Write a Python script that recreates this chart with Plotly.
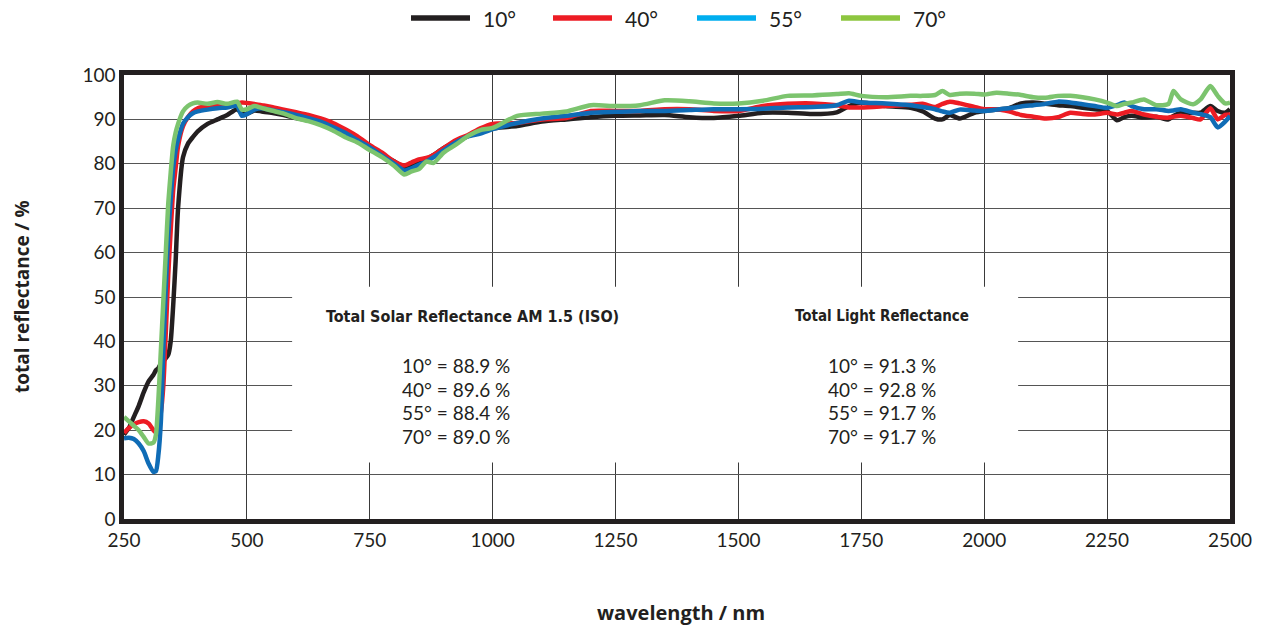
import plotly.graph_objects as go

# ---------------- data ----------------
wavelength = [250, 260, 270, 280, 290, 300, 310, 315, 320, 325,
              330, 335, 340, 345, 350, 355, 360, 370, 380, 390,
              400, 420, 440, 460, 480, 490, 500, 515, 530, 550,
              575, 600, 625, 650, 675, 700, 725, 750, 775, 800,
              820, 835, 850, 865, 880, 900, 925, 950, 975, 1000,
              1050, 1100, 1150, 1200, 1250, 1300, 1350, 1400, 1450, 1500,
              1550, 1600, 1650, 1700, 1725, 1750, 1800,
              1850, 1875, 1900, 1915, 1930, 1950, 1980, 2000, 2025, 2050,
              2075, 2100, 2125,
              2150, 2175, 2200, 2225, 2250, 2270, 2285, 2300, 2325, 2350,
              2375, 2385, 2400, 2425, 2440, 2460, 2475, 2490, 2500]

refl_10 = [19, 20.5, 23, 25.5, 28.5, 31, 32.5, 33.5, 34, 35,
           35.5, 36.2, 37, 40, 48, 58, 70, 81.5, 84.5, 86,
           87.3, 89, 90, 91, 92.3, 91.3, 91.2, 92, 91.8, 91.5,
           91, 90.3, 89.8, 89, 87.8, 86.5, 85, 83.5, 82, 80.5,
           79.2, 79.8, 80.5, 81, 82, 83.5, 85, 86.3, 87.5, 88,
           88.5, 89.5, 90, 90.5, 90.8, 90.9, 91, 90.5, 90.3, 90.8,
           91.5, 91.5, 91.2, 91.6, 93, 93.8, 93,
           92.6, 91.8, 90.2, 90, 91, 90.2, 91.5, 91.9, 92.2, 92.5,
           93.6, 93.8, 93.5,
           93.2, 93, 92.6, 92.3, 91.9, 89.8, 90.5, 90.8, 90.4, 90.6,
           90, 90.8, 91.5, 91.5, 91.5, 93, 91.9, 91.5, 92.3]

refl_40 = [19.4, 20.5, 21.3, 21.8, 22, 21.5, 20, 19.5, 21, 24,
           30, 42, 55, 65, 74, 79, 84, 88.5, 90.5, 91.8,
           92.5, 93, 93.2, 93.4, 93.6, 93.8, 93.7, 93.5, 93.2, 92.8,
           92.2, 91.6, 91, 90.2, 89.2, 87.8, 86.2, 84.2, 82.5, 80.5,
           79.6, 80.3, 81, 81.3, 82, 83.5, 85.3, 86.5, 88, 89,
           89.2, 90, 90.3, 91.9, 91.9, 91.9, 92.3, 92.3, 91.9, 91.9,
           93, 93.5, 93.6, 93.2, 92.7, 92.7, 93,
           93.3, 93.5, 92.8, 93.5, 94, 93.6, 92.8, 92.3, 92.3, 91.8,
           91, 90.6, 90.2,
           90.5, 91.5, 91.2, 91.1, 91.5, 91.1, 91.5, 91.9, 91.1, 90.6,
           90.4, 90.6, 90.8, 90.3, 90, 92.5, 90, 91, 91.1]

refl_55 = [18.2, 18.3, 18, 17, 15.3, 12.5, 10.6, 10.8, 14.5, 22,
           38, 52, 64, 72, 79, 83, 85.5, 89, 90.5, 91.4,
           91.8, 92.2, 92.5, 92.7, 93, 90.8, 91.2, 92.2, 92.5, 92.1,
           91.6, 91, 90.3, 89.5, 88.3, 87, 85.3, 83.7, 81.8, 80,
           78.5, 79, 79.8, 80.5, 81.5, 83, 84.8, 86.2, 86.8, 87.8,
           89.2, 90.2, 90.8, 91.5, 91.7, 91.9, 91.9, 92.1, 92.3, 92.3,
           92.4, 92.7, 92.8, 93.2, 94.2, 93.8, 93.6,
           93.2, 92.8, 92.3, 91.8, 91.5, 92.2, 92, 91.9, 92.2, 92.5,
           92.9, 93.2, 93.5,
           94, 93.8, 93.4, 93, 92.6, 93.2, 93.8, 93, 92.3, 92.3,
           91.9, 92, 92.3, 91.5, 91.2, 90.5, 88.2, 89.5, 90.8]

refl_70 = [23, 22, 21, 20, 18.5, 17, 17.2, 19, 27, 38,
           49, 60, 71, 78, 84, 87, 89, 91.8, 93, 93.6,
           93.8, 93.5, 93.9, 93.5, 94, 92.2, 92.3, 93, 92.6, 92,
           91.3, 90.3, 89.6, 88.7, 87.5, 86, 84.8, 83.1, 81.5, 79.5,
           77.6, 78.3, 78.8, 80.5, 80.2, 82.5, 84.3, 86.3, 87.6, 88.1,
           90.8, 91.3, 91.8, 93.2, 93, 93.2, 94.3, 94.1, 93.6, 93.6,
           94.2, 95.3, 95.4, 95.7, 95.9, 95.3, 95,
           95.3, 95.3, 95.5, 96.4, 95.5, 95.8, 95.8, 95.6, 96, 95.8,
           95.5, 95, 94.9,
           95.3, 95.3, 95, 94.5, 93.8, 93, 93.5, 93.8, 94.5, 93.2,
           93.5, 96.4, 94.5, 93.4, 94.5, 97.5, 95.3, 93.6, 93.8]

series_names = ["10°", "40°", "55°", "70°"]
series_values = [refl_10, refl_40, refl_55, refl_70]
line_colors = ["#231f20", "#ed1c24", "#0f6cb6", "#7cc46e"]
legend_colors = ["#231f20", "#ed1c24", "#00aeef", "#8dc63f"]

x_ticks = [250, 500, 750, 1000, 1250, 1500, 1750, 2000, 2250, 2500]
y_ticks = [0, 10, 20, 30, 40, 50, 60, 70, 80, 90, 100]

tsr_title = "Total Solar Reflectance AM 1.5 (ISO)"
tsr_values = ["10° = 88.9 %", "40° = 89.6 %", "55° = 88.4 %", "70° = 89.0 %"]
tlr_title = "Total Light Reflectance"
tlr_values = ["10° = 91.3 %", "40° = 92.8 %", "55° = 91.7 %", "70° = 91.7 %"]

FONT = "Lato"
COND = "DejaVu Sans Condensed"
BOLD = "Open Sans"
TEXT = "#231f20"

W, H = 1265, 632
L, R, T, B = 124, 35, 75, 113
PW, PH = W - L - R, H - T - B


def px(x):
    return (x - L) / PW


def py(y):
    return (H - B - y) / PH


fig = go.Figure()
for name, vals, col in zip(series_names, series_values, line_colors):
    fig.add_trace(go.Scatter(x=wavelength, y=vals, mode="lines", name=name,
                             line=dict(color=col, width=4.5, shape="spline", smoothing=0.6),
                             showlegend=False, hoverinfo="skip"))

shapes = []
# white box behind the text (covers gridlines)
shapes.append(dict(type="rect", x0=592, x1=2069, y0=12.7, y1=52.3, xref="x", yref="y",
                   fillcolor="white", line=dict(width=0), layer="between"))

ann = []
# legend (drawn by hand: line + label)
leg_x0 = [411, 553, 697, 841]
for name, col, x0 in zip(series_names, legend_colors, leg_x0):
    shapes.append(dict(type="line", xref="paper", yref="paper",
                       x0=px(x0), x1=px(x0 + 59), y0=py(18), y1=py(18),
                       line=dict(color=col, width=5.5)))
    ann.append(dict(xref="paper", yref="paper", x=px(x0 + 70), y=py(18),
                    xanchor="left", yanchor="middle", text=name, showarrow=False,
                    font=dict(family=FONT, size=21, color=TEXT)))

ann.append(dict(x=958, y=45.7, xref="x", yref="y", text=tsr_title, showarrow=False,
                font=dict(family=COND, size=16, color=TEXT, weight="bold")))
ann.append(dict(x=1792, y=45.7, xref="x", yref="y", text=tlr_title, showarrow=False,
                font=dict(family=COND, size=15, color=TEXT, weight="bold")))
ys = [34.5, 29.2, 23.9, 18.5]
for t, yv in zip(tsr_values, ys):
    ann.append(dict(x=925, y=yv, xref="x", yref="y", text=t, showarrow=False,
                    font=dict(family=FONT, size=19, color=TEXT)))
for t, yv in zip(tlr_values, ys):
    ann.append(dict(x=1792, y=yv, xref="x", yref="y", text=t, showarrow=False,
                    font=dict(family=FONT, size=19, color=TEXT)))
# axis titles
ann.append(dict(xref="paper", yref="paper", x=px(22), y=py(297), xanchor="center",
                yanchor="middle", text="total reflectance / %", showarrow=False,
                textangle=-90, font=dict(family=BOLD, size=19, color=TEXT, weight="bold")))
ann.append(dict(xref="paper", yref="paper", x=px(681), y=py(612), xanchor="center",
                yanchor="middle", text="wavelength / nm", showarrow=False,
                font=dict(family=BOLD, size=20, color=TEXT, weight="bold")))

fig.update_layout(
    width=W, height=H,
    margin=dict(l=L, r=R, t=T, b=B, autoexpand=False),
    paper_bgcolor="white", plot_bgcolor="white",
    font=dict(family=FONT, color=TEXT, size=19),
    showlegend=False,
    shapes=shapes,
    annotations=ann,
    xaxis=dict(range=[250, 2500], tickvals=x_ticks, ticktext=[str(v) for v in x_ticks],
               showgrid=True, gridcolor="#3a3a3a", gridwidth=1.3, automargin=False,
               showline=True, mirror=True, linecolor="#231f20", linewidth=4.5,
               ticks="", zeroline=False, tickfont=dict(size=19)),
    yaxis=dict(range=[0, 100], tickvals=y_ticks, ticktext=[str(v) for v in y_ticks],
               showgrid=True, gridcolor="#555555", gridwidth=1.3, automargin=False,
               showline=True, mirror=True, linecolor="#231f20", linewidth=4.5,
               ticks="", zeroline=False, tickfont=dict(size=19)),
)

fig.write_html("out.html", config={"displayModeBar": False},
               post_script="document.body.style.margin='0';document.body.style.overflow='hidden';")
